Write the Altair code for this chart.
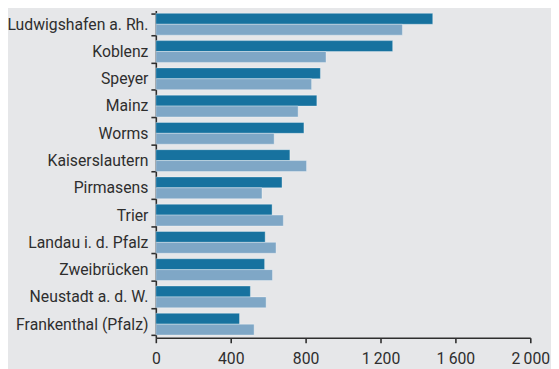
import altair as alt
import pandas as pd

cities = [
    "Ludwigshafen a. Rh.", "Koblenz", "Speyer", "Mainz", "Worms",
    "Kaiserslautern", "Pirmasens", "Trier", "Landau i. d. Pfalz",
    "Zweibrücken", "Neustadt a. d. W.", "Frankenthal (Pfalz)",
]
series_names = ["Reihe 1", "Reihe 2"]
values_dark = [1479, 1265, 879, 860, 791, 716, 674, 621, 584, 581, 505, 447]
values_light = [1317, 909, 832, 760, 632, 805, 567, 681, 642, 623, 589, 525]
x_ticks = [0, 400, 800, 1200, 1600, 2000]
colors = ["#17729F", "#7FA7C6"]

rows = []
for c, a, b in zip(cities, values_dark, values_light):
    rows.append({"city": c, "series": series_names[0], "value": a})
    rows.append({"city": c, "series": series_names[1], "value": b})
df = pd.DataFrame(rows)

FONT = "Roboto"
TXT = "#2e2e2e"

chart = alt.Chart(df).mark_bar(
    stroke="#ffffff", strokeOpacity=0.35, strokeWidth=1
).encode(
    x=alt.X(
        "value:Q",
        scale=alt.Scale(domain=[0, 2000], nice=False),
        axis=alt.Axis(
            values=x_ticks, title=None, grid=False,
            labelExpr="replace(format(datum.value, ','), ',', '\u2009')",
            domainColor=TXT, domainWidth=1.6, tickColor=TXT, tickWidth=1.6,
            tickSize=5, labelPadding=8, labelFont=FONT, labelFontSize=16,
            labelColor=TXT, labelFlush=False,
        ),
    ),
    y=alt.Y(
        "city:N", sort=cities,
        scale=alt.Scale(paddingInner=0.2, paddingOuter=0.1),
        axis=alt.Axis(
            title=None, grid=False, tickBand="extent",
            domainColor=TXT, domainWidth=1.6, tickColor=TXT, tickWidth=1.6,
            tickSize=5, labelPadding=3, labelFont=FONT, labelFontSize=16,
            labelColor=TXT,
        ),
    ),
    yOffset=alt.YOffset("series:N", sort=series_names),
    color=alt.Color(
        "series:N",
        scale=alt.Scale(domain=series_names, range=colors),
        legend=None,
    ),
).properties(
    width=380, height=332,
    autosize=alt.AutoSizeParams(type="none"),
    padding={"left": 150, "top": 0, "right": 21, "bottom": 29},
    background="#E6E7E9",
).configure_view(stroke=None)

chart.save("out.html", embed_options={"renderer": "svg", "actions": False})
